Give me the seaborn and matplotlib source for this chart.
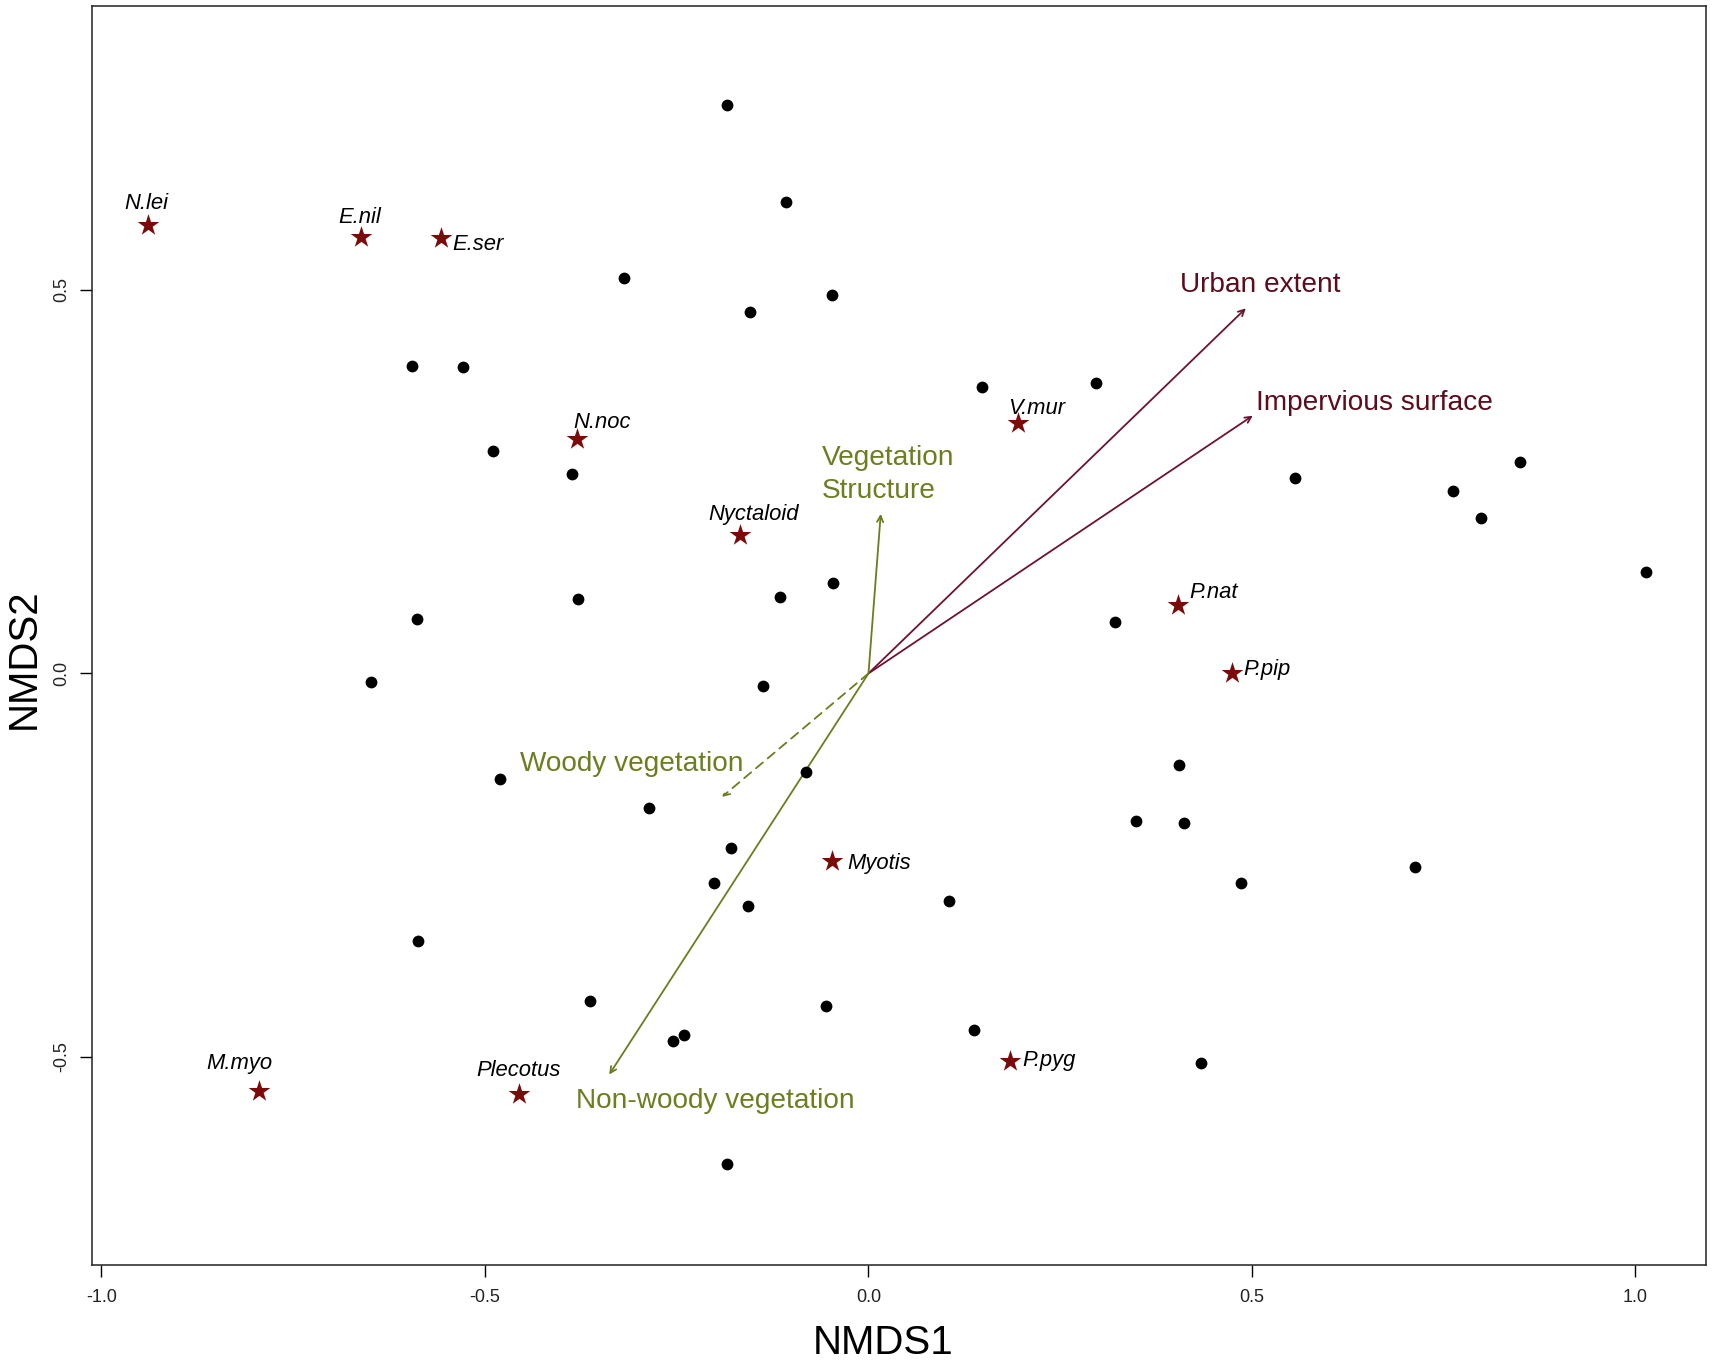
import numpy as np
import pandas as pd
import seaborn as sns
import matplotlib.pyplot as plt

# ==================== data ====================

site_x = [-0.184, -0.107, -0.319, -0.048, -0.155, -0.595, -0.528, 0.148, 0.296, -0.489,
          -0.387, 0.556, 0.850, 0.762, 0.799, 1.014, -0.379, -0.115, -0.046, -0.588,
          0.322, -0.648, -0.137, -0.481, -0.081, 0.405, -0.286, 0.349, 0.412, -0.179,
          -0.201, -0.157, 0.105, 0.486, 0.712, -0.587, -0.363, -0.056, -0.255, -0.241,
          0.138, 0.433, -0.184]
site_y = [0.741, 0.614, 0.515, 0.494, 0.471, 0.401, 0.400, 0.373, 0.378, 0.290,
          0.260, 0.255, 0.275, 0.238, 0.203, 0.132, 0.097, 0.100, 0.118, 0.071,
          0.067, -0.011, -0.017, -0.137, -0.129, -0.119, -0.175, -0.193, -0.195, -0.228,
          -0.273, -0.303, -0.297, -0.273, -0.252, -0.349, -0.427, -0.434, -0.479, -0.471,
          -0.465, -0.508, -0.640]

species = ["N.lei", "E.nil", "E.ser", "N.noc", "V.mur", "Nyctaloid",
           "P.nat", "P.pip", "Myotis", "P.pyg", "M.myo", "Plecotus"]
species_x = [-0.939, -0.662, -0.557, -0.380, 0.195, -0.168,
             0.403, 0.474, -0.047, 0.185, -0.795, -0.456]
species_y = [0.585, 0.569, 0.568, 0.306, 0.326, 0.180,
             0.089, 0.000, -0.245, -0.505, -0.545, -0.548]

env_vars = ["Urban extent", "Impervious surface", "Vegetation\nStructure",
            "Woody vegetation", "Non-woody vegetation"]
env_x = [0.492, 0.501, 0.016, -0.191, -0.338]
env_y = [0.476, 0.336, 0.208, -0.161, -0.523]
env_group = ["urban", "urban", "veg", "veg", "veg"]
env_dashed = [False, False, False, True, False]

x_ticks = [-1.0, -0.5, 0.0, 0.5, 1.0]
y_ticks = [-0.5, 0.0, 0.5]

# ==================== styles ====================

STAR_COLOR = "#7d0a0a"
ARROW_COLOR = {"urban": "#6e1232", "veg": "#6b7d1c"}
TEXT_COLOR = {"urban": "#5e0b1c", "veg": "#6b7f1f"}

# label offsets in points: (dx, dy, ha)
SPECIES_OFFSETS = {
    "N.lei": (-1.5, 15, "center"), "E.nil": (-0.8, 14.2, "center"),
    "E.ser": (8.0, -4.8, "left"), "N.noc": (18, 11.8, "center"),
    "V.mur": (13.4, 11, "center"), "Nyctaloid": (10.2, 15, "center"),
    "P.nat": (8.7, 9.4, "left"), "P.pip": (8.0, 3.1, "left"),
    "Myotis": (10.5, -1.5, "left"), "P.pyg": (8.8, 0.0, "left"),
    "M.myo": (-14.2, 20.4, "center"), "Plecotus": (0, 16.5, "center"),
}
ENV_OFFSETS = {
    "Urban extent": (10.5, 16.5, "center"),
    "Impervious surface": (2.4, 9.4, "left"),
    "Vegetation\nStructure": (-42.5, 28.3, "left"),
    "Woody vegetation": (15.7, 23.6, "right"),
    "Non-woody vegetation": (76.7, -18.9, "center"),
}

sns.set_theme(style="white")
plt.rcParams["font.family"] = ["Liberation Sans", "DejaVu Sans"]

sites = pd.DataFrame({"NMDS1": site_x, "NMDS2": site_y})
spp = pd.DataFrame({"NMDS1": species_x, "NMDS2": species_y, "name": species})
env = pd.DataFrame({"x": env_x, "y": env_y, "name": env_vars,
                    "group": env_group, "dashed": env_dashed})

fig = plt.figure(figsize=(17.13, 13.65), dpi=100)
ax = fig.add_axes([0.0535, 0.0733, 0.9424, 0.922])

sns.scatterplot(data=sites, x="NMDS1", y="NMDS2", ax=ax, color="black",
                s=72, linewidth=0, zorder=3)
sns.scatterplot(data=spp, x="NMDS1", y="NMDS2", ax=ax, color=STAR_COLOR,
                marker="*", s=270, linewidth=0, zorder=4)

for _, r in spp.iterrows():
    dx, dy, ha = SPECIES_OFFSETS[r["name"]]
    ax.annotate(r["name"], (r["NMDS1"], r["NMDS2"]), xytext=(dx, dy),
                textcoords="offset points", ha=ha, va="center",
                fontsize=15.8, fontstyle="italic", color="black", zorder=5)

for _, r in env.iterrows():
    ls = (0, (5, 3.5)) if r["dashed"] else "-"
    ax.annotate("", xy=(r["x"], r["y"]), xytext=(0, 0),
                arrowprops=dict(arrowstyle="->", color=ARROW_COLOR[r["group"]],
                                lw=1.3, linestyle=ls, mutation_scale=11,
                                shrinkA=0, shrinkB=0), zorder=2)
    dx, dy, ha = ENV_OFFSETS[r["name"]]
    ax.annotate(r["name"], (r["x"], r["y"]), xytext=(dx, dy),
                textcoords="offset points", ha=ha, va="center",
                fontsize=20.2, color=TEXT_COLOR[r["group"]],
                linespacing=1.33, zorder=5)

ax.set_xlim(-1.0128, 1.0919)
ax.set_ylim(-0.7712, 0.8696)
ax.set_xticks(x_ticks)
ax.set_xticklabels([f"{t:.1f}" for t in x_ticks])
ax.set_yticks(y_ticks)
ax.set_yticklabels([f"{t:.1f}" for t in y_ticks])
ax.tick_params(axis="both", direction="out", length=8.6, width=1.0,
               labelsize=13, color="black", labelcolor="#222222",
               bottom=True, left=True)
ax.tick_params(axis="x", pad=9)
ax.tick_params(axis="y", pad=7, labelrotation=90)
for lab in ax.get_yticklabels():
    lab.set_va("center")

for sp in ax.spines.values():
    sp.set_color("#222222")
    sp.set_linewidth(1.1)

ax.set_xlabel("NMDS1", fontsize=29, color="black", va="center")
ax.set_ylabel("NMDS2", fontsize=29, color="black", va="center")
ax.xaxis.set_label_coords(0.490, -0.062)
ax.yaxis.set_label_coords(-0.042, 0.482)

fig.savefig("out.png", dpi=100)
